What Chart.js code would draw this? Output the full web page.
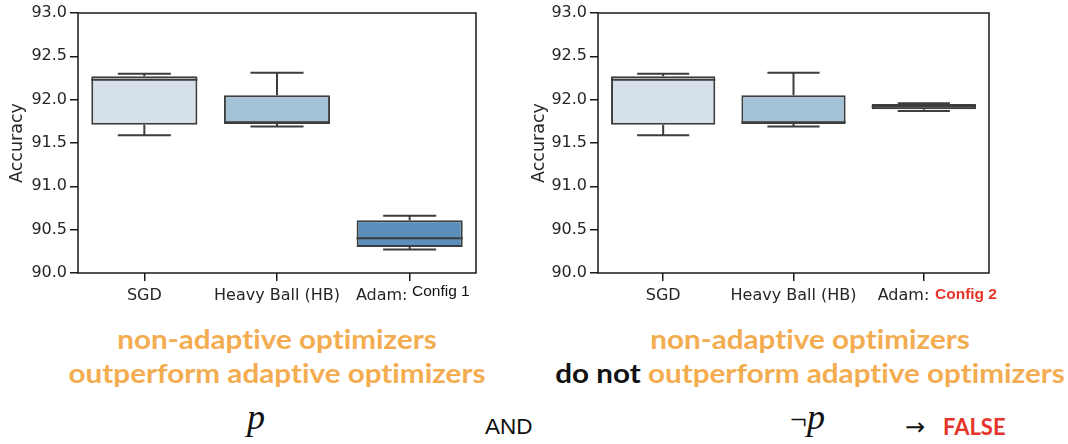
<!DOCTYPE html>
<html>
<head>
<meta charset="utf-8">
<script src="https://cdn.jsdelivr.net/npm/chart.js@4.4.1/dist/chart.umd.min.js"></script>
<style>
body { margin: 0; width: 1068px; height: 444px; background: #fff; position: relative; overflow: hidden; }
canvas { position: absolute; top: 0; }
#chartL { left: 0; }
#chartR { left: 520px; }
.t { position: absolute; white-space: nowrap; line-height: 1; }
.claim { font-family: Lato, sans-serif; font-weight: 700; font-size: 26px; color: #f4ac50; text-align: center;
  font-variant-ligatures: none; transform: scaleX(1.14); transform-origin: center; }
.black { color: #111; }
.config { font-family: "Liberation Sans", Arial, sans-serif; font-size: 15.5px; }
.math { font-family: "Liberation Serif", serif; font-style: italic; font-size: 36px; color: #111; }
</style>
</head>
<body>
<canvas id="chartL" width="500" height="310"></canvas>
<canvas id="chartR" width="500" height="310"></canvas>

<div class="t config" style="left:412px; top:283px; color:#111;">Config 1</div>
<div class="t config" style="left:935px; top:286px; color:#e5352b; font-weight:700;">Config 2</div>

<div class="t claim" style="left:0; width:554px; top:326px;">non-adaptive optimizers</div>
<div class="t claim" style="left:0; width:554px; top:360px;">outperform adaptive optimizers</div>
<div class="t claim" style="left:555px; width:510px; top:326px;">non-adaptive optimizers</div>
<div class="t claim" style="left:555px; width:510px; top:360px;"><span class="black">do not</span> outperform adaptive optimizers</div>

<div class="t math" style="left:247px; top:399px;">p</div>
<div class="t" style="left:485px; top:416px; font-family:'Liberation Sans', Arial, sans-serif; font-size:22.5px; color:#111;">AND</div>
<div class="t math" style="left:790px; top:399px;"><span style="font-style:normal; font-size:30px;">&not;</span>p</div>
<div class="t" style="left:905px; top:415px; font-family:'DejaVu Sans', sans-serif; font-size:24px; color:#111;">&rarr;</div>
<div class="t" style="left:943px; top:416px; font-family:Lato, sans-serif; font-weight:700; font-size:22px; color:#e5352b;">FALSE</div>

<script>
var categories = ["SGD", "Heavy Ball (HB)", "Adam:"];
var yTicks = [90.0, 90.5, 91.0, 91.5, 92.0, 92.5, 93.0];

// Adam with config 1
var lowWhisker1 = [91.59, 91.69, 90.27];
var lowerQuartile1 = [91.71, 91.72, 90.30];
var median1 = [92.23, 91.74, 90.40];
var upperQuartile1 = [92.27, 92.05, 90.61];
var highWhisker1 = [92.30, 92.31, 90.66];

// Adam with config 2
var lowWhisker2 = [91.59, 91.69, 91.87];
var lowerQuartile2 = [91.71, 91.72, 91.89];
var median2 = [92.23, 91.74, 91.92];
var upperQuartile2 = [92.27, 92.05, 91.95];
var highWhisker2 = [92.30, 92.31, 91.96];

var boxColors = ["#d5e0ea", "#a4c2d6", "#5b8fbb"];
var edgeColor = "#3d3d3d";
var axisColor = "#1a1a1a";
var textColor = "#262626";

// whiskers, caps and median lines on top of the floating bars
var boxPlugin = {
  id: "boxWhiskers",
  afterDatasetsDraw: function(chart, args, opts) {
    var ctx = chart.ctx;
    var y = chart.scales.y;
    var bars = chart.getDatasetMeta(0).data;
    ctx.save();
    ctx.strokeStyle = edgeColor;
    ctx.lineWidth = 2;
    for (var i = 0; i < bars.length; i++) {
      var cx = bars[i].x;
      var hw = bars[i].width / 2;
      var lo = y.getPixelForValue(opts.low[i]);
      var q1 = y.getPixelForValue(opts.q1[i]);
      var q3 = y.getPixelForValue(opts.q3[i]);
      var hi = y.getPixelForValue(opts.high[i]);
      var md = y.getPixelForValue(opts.median[i]);
      ctx.beginPath();
      ctx.moveTo(cx, q3); ctx.lineTo(cx, hi);
      ctx.moveTo(cx - hw / 2, hi); ctx.lineTo(cx + hw / 2, hi);
      ctx.moveTo(cx, q1); ctx.lineTo(cx, lo);
      ctx.moveTo(cx - hw / 2, lo); ctx.lineTo(cx + hw / 2, lo);
      ctx.moveTo(cx - hw, md); ctx.lineTo(cx + hw, md);
      ctx.stroke();
    }
    ctx.restore();
  },
  afterDraw: function(chart) {
    var a = chart.chartArea;
    var ctx = chart.ctx;
    ctx.save();
    ctx.strokeStyle = axisColor;
    ctx.lineWidth = 1.5;
    ctx.strokeRect(a.left, a.top, a.right - a.left, a.bottom - a.top);
    ctx.restore();
  }
};

function makeBoxChart(id, low, q1, median, q3, high, padRight, titlePad, adamSpaces) {
  var boxes = [];
  for (var i = 0; i < categories.length; i++) {
    boxes.push([q1[i], q3[i]]);
  }
  var tickFont = { family: "DejaVu Sans", size: 16 };
  return new Chart(document.getElementById(id), {
    type: "bar",
    data: {
      labels: categories,
      datasets: [{
        data: boxes,
        backgroundColor: boxColors,
        borderColor: edgeColor,
        borderWidth: 2,
        borderSkipped: false,
        barPercentage: 0.8,
        categoryPercentage: 1.0
      }]
    },
    options: {
      responsive: false,
      animation: false,
      devicePixelRatio: 1,
      layout: { padding: { top: 13, right: padRight, left: 0, bottom: 0 } },
      plugins: {
        legend: { display: false },
        tooltip: { enabled: false },
        boxWhiskers: { low: low, q1: q1, median: median, q3: q3, high: high }
      },
      scales: {
        x: {
          grid: { offset: false, drawOnChartArea: false, drawTicks: true, tickLength: 8, color: axisColor, lineWidth: 1.5 },
          border: { display: false },
          ticks: {
            font: tickFont,
            color: textColor,
            padding: 5,
            maxRotation: 0,
            callback: function(v, i) {
              var s = categories[i];
              if (i === 2) s = s + " ".repeat(adamSpaces);
              return s;
            }
          },
          afterFit: function(s) { s.height = 37; }
        },
        y: {
          min: 90,
          max: 93,
          afterBuildTicks: function(s) {
            s.ticks = yTicks.map(function(v) { return { value: v }; });
          },
          grid: { drawOnChartArea: false, drawTicks: true, tickLength: 8, color: axisColor, lineWidth: 1.5 },
          border: { display: false },
          ticks: {
            font: tickFont,
            color: textColor,
            padding: 3,
            callback: function(v) { return Number(v).toFixed(1); }
          },
          title: {
            display: true,
            text: "Accuracy",
            font: { family: "DejaVu Sans", size: 17.5 },
            color: textColor,
            padding: { top: titlePad, bottom: 0 }
          },
          afterFit: function(s) { s.width = 78; }
        }
      }
    },
    plugins: [boxPlugin]
  });
}

makeBoxChart("chartL", lowWhisker1, lowerQuartile1, median1, upperQuartile1, highWhisker1, 24, 7, 11);
makeBoxChart("chartR", lowWhisker2, lowerQuartile2, median2, upperQuartile2, highWhisker2, 31, 9, 8);
</script>
</body>
</html>
